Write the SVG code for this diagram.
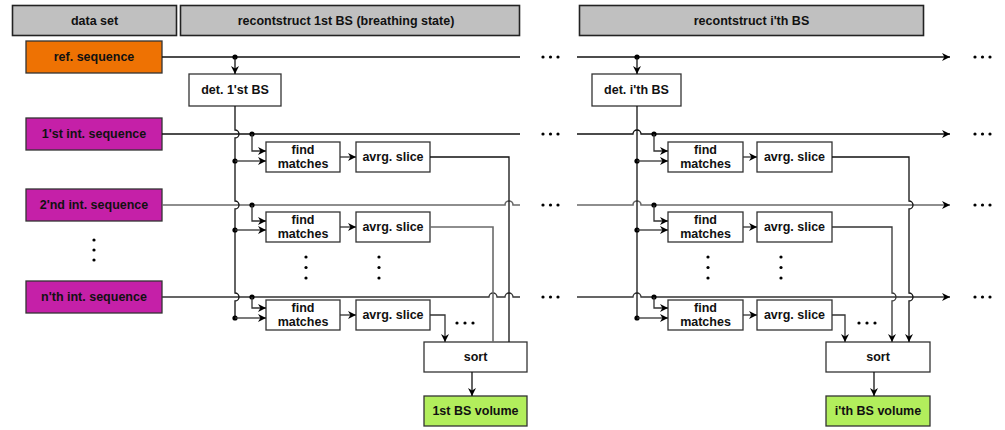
<svg xmlns="http://www.w3.org/2000/svg" width="1005" height="430" viewBox="0 0 1005 430">
<style>
text{font-family:"Liberation Sans",Arial,sans-serif;font-weight:bold;font-size:12.5px;text-anchor:middle;dominant-baseline:central;fill:#111}
.hdr{fill:#c0c0c0;stroke:#222;stroke-width:1.6}
.box{fill:#fff;stroke:#333;stroke-width:1.3}
.ref{fill:#ee7203;stroke:#333;stroke-width:1.3}
.int{fill:#c520a8;stroke:#333;stroke-width:1.3}
.vol{fill:#b2ee5c;stroke:#333;stroke-width:1.3}
.ln{fill:none;stroke:#111;stroke-width:1.3}
.lg{fill:none;stroke:#6a6a6a;stroke-width:1.6}
.ld{fill:none;stroke:#333;stroke-width:1.3}
.arr{marker-end:url(#ah)}
.dot{fill:#000}
</style>
<defs>
<marker id="ah" viewBox="0 0 10 10" refX="10" refY="5" markerWidth="8" markerHeight="8" markerUnits="userSpaceOnUse" orient="auto">
<path d="M0,0 L10,5 L0,10 L3,5 z" fill="#000"/>
</marker>
</defs>

<g id="header-dataset"><rect class="hdr" x="12.5" y="5.5" width="164" height="30"/><text x="94.5" y="21">data set</text></g>
<g id="header-1st"><rect class="hdr" x="180.5" y="5.5" width="339" height="30"/><text x="346" y="21">recontstruct 1st BS (breathing state)</text></g>
<g id="header-ith"><rect class="hdr" x="579.5" y="5.5" width="344" height="30"/><text x="751.5" y="21">recontstruct i'th BS</text></g>

<g id="ref-seq"><rect class="ref" x="26" y="41" width="136" height="32"/><text x="94" y="57">ref. sequence</text></g>
<g id="int-seq-1"><rect class="int" x="26" y="118" width="136" height="32"/><text x="94" y="134">1'st int. sequence</text></g>
<g id="int-seq-2"><rect class="int" x="26" y="189" width="136" height="32"/><text x="94" y="205">2'nd int. sequence</text></g>
<g id="int-seq-n"><rect class="int" x="26" y="281" width="136" height="32"/><text x="94" y="297">n'th int. sequence</text></g>
<g id="seq-dots"><circle class="dot" cx="94" cy="240" r="1.6"/><circle class="dot" cx="94" cy="250" r="1.6"/><circle class="dot" cx="94" cy="260" r="1.6"/></g>

<!-- section 1 nodes -->
<g id="det-1"><rect class="box" x="189" y="74" width="92" height="32"/><text x="235" y="90">det. 1'st BS</text></g>
<g id="fm-1-1"><rect class="box" x="266" y="142" width="74" height="30"/><text x="303" y="150">find</text><text x="303" y="164">matches</text></g>
<g id="as-1-1"><rect class="box" x="356" y="142" width="74" height="30"/><text x="393" y="157">avrg. slice</text></g>
<g id="fm-1-2"><rect class="box" x="266" y="212" width="74" height="30"/><text x="303" y="220">find</text><text x="303" y="234">matches</text></g>
<g id="as-1-2"><rect class="box" x="356" y="212" width="74" height="30"/><text x="393" y="227">avrg. slice</text></g>
<g id="fm-1-n"><rect class="box" x="266" y="300" width="74" height="30"/><text x="303" y="308">find</text><text x="303" y="322">matches</text></g>
<g id="as-1-n"><rect class="box" x="356" y="300" width="74" height="30"/><text x="393" y="315">avrg. slice</text></g>
<g id="sort-1"><rect class="box" x="424" y="342" width="103" height="30"/><text x="475.5" y="357">sort</text></g>
<g id="vol-1"><rect class="vol" x="424" y="396" width="103" height="30"/><text x="475.5" y="411">1st BS volume</text></g>

<!-- section 2 nodes -->
<g id="det-i"><rect class="box" x="592" y="74" width="89" height="32"/><text x="636.5" y="90">det. i'th BS</text></g>
<g id="fm-i-1"><rect class="box" x="668" y="142" width="75" height="30"/><text x="705.5" y="150">find</text><text x="705.5" y="164">matches</text></g>
<g id="as-i-1"><rect class="box" x="757" y="142" width="75" height="30"/><text x="794.5" y="157">avrg. slice</text></g>
<g id="fm-i-2"><rect class="box" x="668" y="212" width="75" height="30"/><text x="705.5" y="220">find</text><text x="705.5" y="234">matches</text></g>
<g id="as-i-2"><rect class="box" x="757" y="212" width="75" height="30"/><text x="794.5" y="227">avrg. slice</text></g>
<g id="fm-i-n"><rect class="box" x="668" y="300" width="75" height="30"/><text x="705.5" y="308">find</text><text x="705.5" y="322">matches</text></g>
<g id="as-i-n"><rect class="box" x="757" y="300" width="75" height="30"/><text x="794.5" y="315">avrg. slice</text></g>
<g id="sort-i"><rect class="box" x="826" y="342" width="104" height="30"/><text x="878" y="357">sort</text></g>
<g id="vol-i"><rect class="vol" x="826" y="396" width="104" height="30"/><text x="878" y="411">i'th BS volume</text></g>

<g id="ellipses">
<circle class="dot" cx="543" cy="57" r="1.6"/><circle class="dot" cx="550.5" cy="57" r="1.6"/><circle class="dot" cx="558" cy="57" r="1.6"/>
<circle class="dot" cx="543" cy="134" r="1.6"/><circle class="dot" cx="550.5" cy="134" r="1.6"/><circle class="dot" cx="558" cy="134" r="1.6"/>
<circle class="dot" cx="543" cy="205" r="1.6"/><circle class="dot" cx="550.5" cy="205" r="1.6"/><circle class="dot" cx="558" cy="205" r="1.6"/>
<circle class="dot" cx="543" cy="297" r="1.6"/><circle class="dot" cx="550.5" cy="297" r="1.6"/><circle class="dot" cx="558" cy="297" r="1.6"/>
<circle class="dot" cx="975" cy="57" r="1.6"/><circle class="dot" cx="982.5" cy="57" r="1.6"/><circle class="dot" cx="990" cy="57" r="1.6"/>
<circle class="dot" cx="975" cy="134" r="1.6"/><circle class="dot" cx="982.5" cy="134" r="1.6"/><circle class="dot" cx="990" cy="134" r="1.6"/>
<circle class="dot" cx="975" cy="205" r="1.6"/><circle class="dot" cx="982.5" cy="205" r="1.6"/><circle class="dot" cx="990" cy="205" r="1.6"/>
<circle class="dot" cx="975" cy="297" r="1.6"/><circle class="dot" cx="982.5" cy="297" r="1.6"/><circle class="dot" cx="990" cy="297" r="1.6"/>
<circle class="dot" cx="457" cy="323" r="1.6"/><circle class="dot" cx="465" cy="323" r="1.6"/><circle class="dot" cx="473" cy="323" r="1.6"/>
<circle class="dot" cx="859" cy="323" r="1.6"/><circle class="dot" cx="867" cy="323" r="1.6"/><circle class="dot" cx="875" cy="323" r="1.6"/>
<circle class="dot" cx="306" cy="257" r="1.6"/><circle class="dot" cx="306" cy="267.5" r="1.6"/><circle class="dot" cx="306" cy="278" r="1.6"/>
<circle class="dot" cx="379" cy="257" r="1.6"/><circle class="dot" cx="379" cy="267.5" r="1.6"/><circle class="dot" cx="379" cy="278" r="1.6"/>
<circle class="dot" cx="708" cy="257" r="1.6"/><circle class="dot" cx="708" cy="267.5" r="1.6"/><circle class="dot" cx="708" cy="278" r="1.6"/>
<circle class="dot" cx="781" cy="257" r="1.6"/><circle class="dot" cx="781" cy="267.5" r="1.6"/><circle class="dot" cx="781" cy="278" r="1.6"/>
</g>

<g id="connectors">
<!-- section 1 horizontal lines -->
<path class="ln" d="M162,57 H520"/>
<path class="ln" d="M162,134 H520"/>
<path class="lg" d="M162,205 H505 a4,4 0 0 1 8,0 H520"/>
<path class="ld" d="M162,297 H489 a4,4 0 0 1 8,0 H505 a4,4 0 0 1 8,0 H520"/>
<!-- section 2 horizontal lines -->
<path class="ln arr" d="M577,57 H950"/>
<path class="ln arr" d="M577,134 H633 a4,4 0 0 1 8,0 H950"/>
<path class="lg arr" d="M577,205 H633 a4,4 0 0 1 8,0 H950"/>
<path class="ld arr" d="M577,297 H633 a4,4 0 0 1 8,0 H950"/>

<!-- section 1 -->
<circle class="dot" cx="235" cy="57" r="2.6"/>
<path class="ln arr" d="M235,57 V74"/>
<path class="ln" d="M235,106 V130 a4,4 0 0 1 0,8 V201 a4,4 0 0 1 0,8 V293 a4,4 0 0 1 0,8 V318"/>
<circle class="dot" cx="252" cy="134" r="2.6"/>
<path class="ld arr" d="M252,134 V151 H266"/>
<circle class="dot" cx="235" cy="161" r="2.6"/>
<path class="ld arr" d="M235,161 H266"/>
<path class="ld arr" d="M340,157 H356"/>
<circle class="dot" cx="252" cy="205" r="2.6"/>
<path class="ld arr" d="M252,205 V221 H266"/>
<circle class="dot" cx="235" cy="230" r="2.6"/>
<path class="ld arr" d="M235,230 H266"/>
<path class="ld arr" d="M340,227 H356"/>
<circle class="dot" cx="252" cy="297" r="2.6"/>
<path class="ld arr" d="M252,297 V308 H266"/>
<circle class="dot" cx="235" cy="318" r="2.6"/>
<path class="ld arr" d="M235,318 H266"/>
<path class="ld arr" d="M340,315 H356"/>
<path class="ln" d="M430,157 H509 V342"/>
<path class="lg" d="M430,227 H493 V342"/>
<path class="ld arr" d="M430,315 H445 V342"/>
<path class="ln arr" d="M472,372 V396"/>

<!-- section 2 -->
<circle class="dot" cx="637" cy="57" r="2.6"/>
<path class="ln arr" d="M637,57 V74"/>
<path class="ln" d="M637,106 V318"/>
<circle class="dot" cx="654" cy="134" r="2.6"/>
<path class="ld arr" d="M654,134 V151 H668"/>
<circle class="dot" cx="637" cy="161" r="2.6"/>
<path class="ld arr" d="M637,161 H668"/>
<path class="ld arr" d="M743,157 H757"/>
<circle class="dot" cx="654" cy="205" r="2.6"/>
<path class="ld arr" d="M654,205 V221 H668"/>
<circle class="dot" cx="637" cy="230" r="2.6"/>
<path class="ld arr" d="M637,230 H668"/>
<path class="ld arr" d="M743,227 H757"/>
<circle class="dot" cx="654" cy="297" r="2.6"/>
<path class="ld arr" d="M654,297 V308 H668"/>
<circle class="dot" cx="637" cy="318" r="2.6"/>
<path class="ld arr" d="M637,318 H668"/>
<path class="ld arr" d="M743,315 H757"/>
<path class="ln arr" d="M832,157 H909 V201 a4,4 0 0 1 0,8 V293 a4,4 0 0 1 0,8 V342"/>
<path class="ld arr" d="M832,227 H892 V293 a4,4 0 0 1 0,8 V342"/>
<path class="ld arr" d="M832,315 H845 V342"/>
<path class="ln arr" d="M874,372 V396"/>
</g>
</svg>
